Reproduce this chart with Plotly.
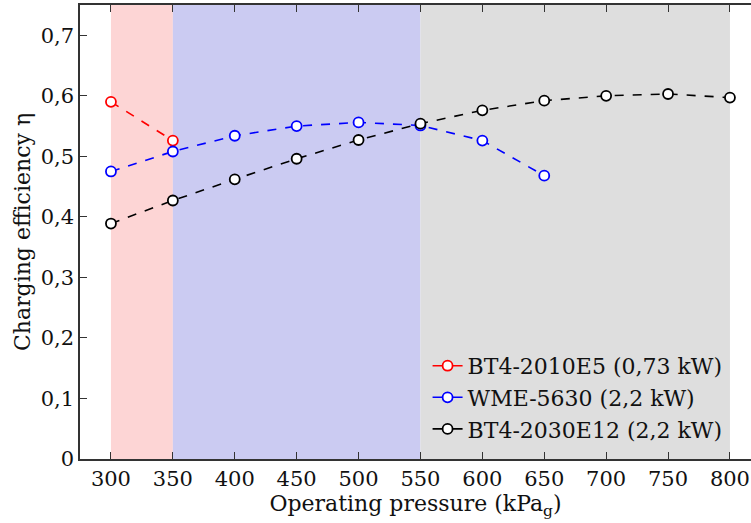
import plotly.graph_objects as go

# Operating pressure (kPa_g) for each test point
p_bt4_2010 = [300, 350]
p_wme = [300, 350, 400, 450, 500, 550, 600, 650]
p_bt4_2030 = [300, 350, 400, 450, 500, 550, 600, 650, 700, 750, 800]

# Charging efficiency measured for each compressor
eta_bt4_2010 = [0.590, 0.526]
eta_wme = [0.475, 0.508, 0.534, 0.550, 0.556, 0.551, 0.526, 0.468]
eta_bt4_2030 = [0.389, 0.427, 0.462, 0.496, 0.527, 0.554, 0.576, 0.592, 0.600, 0.603, 0.597]

series_names = ["BT4-2010E5 (0,73 kW)", "WME-5630 (2,2 kW)", "BT4-2030E12 (2,2 kW)"]
series_colors = ["#ff0000", "#0000ff", "#000000"]

# Operating ranges shaded behind the curves
band_edges = [(300, 350), (350, 550), (550, 800)]
band_colors = ["#fdd5d5", "#cbcbf2", "#dedede"]

x_ticks = [300, 350, 400, 450, 500, 550, 600, 650, 700, 750, 800]
y_ticks = [0, 0.1, 0.2, 0.3, 0.4, 0.5, 0.6, 0.7]
y_tick_text = ["0", "0,1", "0,2", "0,3", "0,4", "0,5", "0,6", "0,7"]

font_family = "DejaVu Serif"

fig = go.Figure()

for (x0, x1), c in zip(band_edges, band_colors):
    fig.add_vrect(x0=x0, x1=x1, fillcolor=c, opacity=1, line_width=0, layer="below")

for xs, ys, col in zip([p_bt4_2010, p_wme, p_bt4_2030],
                       [eta_bt4_2010, eta_wme, eta_bt4_2030], series_colors):
    fig.add_trace(go.Scatter(
        x=xs, y=ys, mode="lines+markers", showlegend=False,
        line=dict(color=col, width=1.6, dash="dash"),
        marker=dict(symbol="circle", size=10, color="white",
                    line=dict(color=col, width=1.8)),
        cliponaxis=False,
    ))

# Legend entries drawn with solid lines
for name, col in zip(series_names, series_colors):
    fig.add_trace(go.Scatter(
        x=[None], y=[None], mode="lines+markers", name=name,
        line=dict(color=col, width=1.6),
        marker=dict(symbol="circle", size=10, color="white",
                    line=dict(color=col, width=1.8)),
    ))

fig.update_layout(
    width=751, height=523,
    margin=dict(l=80, r=0, t=5, b=64),
    paper_bgcolor="white", plot_bgcolor="white",
    font=dict(family=font_family, size=21, color="#111111"),
    showlegend=True,
    legend=dict(x=0.518, y=0.02, xanchor="left", yanchor="bottom",
                bgcolor="rgba(0,0,0,0)", borderwidth=0,
                font=dict(family=font_family, size=22), itemwidth=30,
                tracegroupgap=0),
    xaxis=dict(
        range=[275, 817], tickvals=x_ticks,
        ticks="inside", ticklen=7, tickwidth=1.3, tickcolor="#333333",
        showline=True, linecolor="#333333", linewidth=1.5, mirror="ticks",
        showgrid=False, zeroline=False,
        tickfont=dict(family=font_family, size=21),
        title=dict(text="Operating pressure (kPa<sub>g</sub>)", standoff=4,
                   font=dict(family=font_family, size=22)),
    ),
    yaxis=dict(
        range=[0, 0.75], tickvals=y_ticks, ticktext=y_tick_text,
        ticks="inside", ticklen=7, tickwidth=1.3, tickcolor="#333333",
        showline=True, linecolor="#333333", linewidth=1.5, mirror=False,
        showgrid=False, zeroline=False,
        tickfont=dict(family=font_family, size=21),
        title=dict(text="Charging efficiency η", standoff=4,
                   font=dict(family=font_family, size=22)),
    ),
)

fig.write_html("out.html")
